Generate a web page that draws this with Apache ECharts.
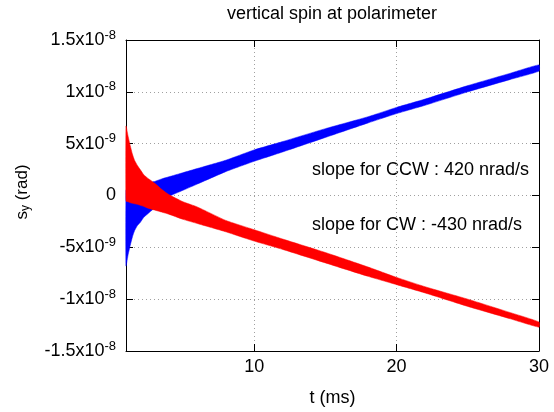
<!DOCTYPE html>
<html>
<head>
<meta charset="utf-8">
<script src="https://cdn.jsdelivr.net/npm/echarts@6/dist/echarts.min.js"></script>
<style>
  html, body { margin: 0; padding: 0; background: #fff; }
  #chart { width: 554px; height: 412px; }
</style>
</head>
<body>
<div id="chart"></div>
<script>
// time (ms) and envelope of the oscillating spin, in units of 1e-9 rad
var times   = [1, 1.15, 1.3, 1.45, 1.6, 1.8, 2, 2.25, 2.5, 3, 3.5, 4, 5, 6, 8, 10, 12, 15, 18, 20, 22, 25, 28, 30];
var ccwLow  = [-6.8, -5.7, -4.8, -4.0, -3.4, -2.9, -2.6, -2.1, -1.8, -1.2, -0.6, -0.1, 0.5, 1.1, 2.3, 3.3, 4.2, 5.6, 7.0, 7.9, 8.7, 10.0, 11.2, 12.0];
var ccwHigh = [0.55, 0.6, 0.7, 0.75, 0.8, 0.85, 0.95, 1.05, 1.2, 1.35, 1.6, 1.8, 2.2, 2.6, 3.4, 4.4, 5.2, 6.45, 7.6, 8.5, 9.3, 10.6, 11.8, 12.6];
var cwLow   = [-0.55, -0.6, -0.7, -0.75, -0.8, -0.85, -0.95, -1.05, -1.2, -1.4, -1.6, -1.8, -2.3, -2.7, -3.5, -4.4, -5.2, -6.5, -7.8, -8.6, -9.4, -10.7, -11.9, -12.7];
var cwHigh  = [6.7, 5.7, 4.8, 4.0, 3.4, 2.9, 2.5, 2.0, 1.7, 1.2, 0.6, 0.1, -0.6, -1.1, -2.4, -3.3, -4.2, -5.5, -6.9, -7.9, -8.8, -10.0, -11.3, -12.2];

var xTicks = [10, 20, 30];

var FONT = 'Liberation Sans';

function yLabel(v) {
	if (v === 0) return '0';
	var e = Math.abs(v) >= 10 ? -8 : -9;
	var m = e === -8 ? v / 10 : v;
	return m + 'x10{sup|' + e + '}';
}

// closed polygon: upper edge left to right, lower edge back
function bandSeries(name, lo, hi, color) {
	return {
		name: name,
		type: 'custom',
		coordinateSystem: 'cartesian2d',
		silent: true,
		clip: false,
		data: [[times[0], lo[0]]],
		renderItem: function (params, api) {
			var pts = [];
			for (var i = 0; i < times.length; i++) {
				pts.push(api.coord([times[i], hi[i]]));
			}
			for (var j = times.length - 1; j >= 0; j--) {
				pts.push(api.coord([times[j], lo[j]]));
			}
			return {
				type: 'polygon',
				shape: { points: pts, smooth: 0.15 },
				style: { fill: color, stroke: color, lineWidth: 0.5 }
			};
		}
	};
}

var myChart = echarts.init(document.getElementById('chart'));

var tickStyle = { inside: true, length: 7, lineStyle: { color: '#000', width: 1 } };
var splitStyle = { show: true, lineStyle: { color: '#a0a0a0', type: [1, 3], width: 1 } };
var lineStyle = { show: true, onZero: false, lineStyle: { color: '#000', width: 1 } };

var option = {
	animation: false,
	grid: { left: 126, right: 15, top: 40, bottom: 58 },
	xAxis: [{
		type: 'value',
		min: 1,
		max: 30,
		axisLine: lineStyle,
		axisTick: Object.assign({ customValues: xTicks }, tickStyle),
		axisLabel: { customValues: xTicks, color: '#000', fontFamily: FONT, fontSize: 18, margin: 7 },
		splitLine: splitStyle,
		name: 't (ms)',
		nameLocation: 'middle',
		nameGap: 38,
		nameTextStyle: { color: '#000', fontFamily: FONT, fontSize: 18 }
	}, {
		type: 'value',
		position: 'top',
		min: 1,
		max: 30,
		axisLine: lineStyle,
		axisTick: Object.assign({ customValues: xTicks }, tickStyle),
		axisLabel: { show: false },
		splitLine: { show: false }
	}],
	yAxis: [{
		type: 'value',
		min: -15,
		max: 15,
		interval: 5,
		axisLine: lineStyle,
		axisTick: tickStyle,
		axisLabel: {
			color: '#000', fontFamily: FONT, fontSize: 18, margin: 10,
			formatter: yLabel,
			rich: { sup: { fontSize: 13, fontFamily: FONT, color: '#000', verticalAlign: 'top', padding: [0, 0, 10, 0] } }
		},
		splitLine: splitStyle
	}, {
		type: 'value',
		position: 'right',
		min: -15,
		max: 15,
		interval: 5,
		axisLine: lineStyle,
		axisTick: tickStyle,
		axisLabel: { show: false },
		splitLine: { show: false }
	}],
	series: [
		bandSeries('CCW', ccwLow, ccwHigh, '#0000ff'),
		bandSeries('CW', cwLow, cwHigh, '#ff0000')
	],
	graphic: [{
		type: 'text', x: 332, y: 14,
		style: { text: 'vertical spin at polarimeter', fontFamily: FONT, fontSize: 18, fill: '#000', textAlign: 'center', textVerticalAlign: 'middle' }
	}, {
		type: 'text', x: 312, y: 170,
		style: { text: 'slope for CCW : 420 nrad/s', fontFamily: FONT, fontSize: 18, fill: '#000', textAlign: 'left', textVerticalAlign: 'middle' }
	}, {
		type: 'text', x: 312, y: 225,
		style: { text: 'slope for CW : -430 nrad/s', fontFamily: FONT, fontSize: 18, fill: '#000', textAlign: 'left', textVerticalAlign: 'middle' }
	}, {
		type: 'text', x: 22, y: 192, rotation: Math.PI / 2,
		style: {
			text: 's{sub|y} (rad)', fontFamily: FONT, fontSize: 17, fill: '#000',
			textAlign: 'center', textVerticalAlign: 'middle',
			rich: { sub: { fontSize: 12, fontFamily: FONT, fill: '#000', verticalAlign: 'bottom', padding: [7, 0, 0, 0] } }
		}
	}]
};

myChart.setOption(option);
</script>
</body>
</html>
